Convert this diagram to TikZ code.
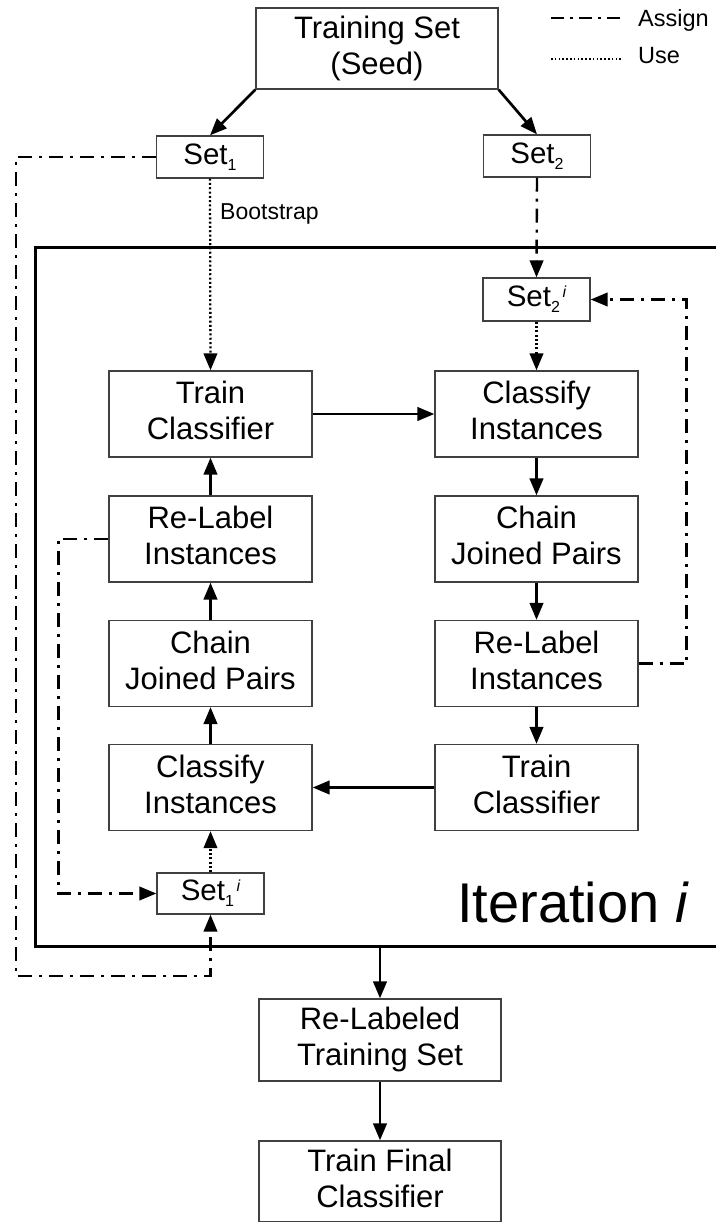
\documentclass[tikz,border=0pt]{standalone}
\usepackage{fontspec}
\setmainfont{Liberation Sans}
\usetikzlibrary{arrows.meta}
\newcommand\mainfs{\fontsize{31}{36}\selectfont}
\newcommand\setfs{\fontsize{29.5}{34}\selectfont}
\newcommand\subfs{\fontsize{16}{16}\selectfont}
\newcommand\legfs{\fontsize{23.5}{28}\selectfont}
\newcommand\SetSub[1]{Set\raisebox{-6.3pt}{\subfs #1}}
\newcommand\SetSubI[1]{Set\raisebox{-6.3pt}{\subfs #1}\raisebox{9pt}{\subfs\itshape\,i}}
\begin{document}
\begin{tikzpicture}[x=1pt,y=-1pt,
  box/.style={draw=black!75, line width=1.3pt, inner sep=0pt, align=center,
    minimum width=203pt, minimum height=86pt, font=\mainfs,
    execute at end node={\rule[-6.5pt]{0pt}{6.5pt}}},
  wide/.style={box, minimum width=242pt, minimum height=81pt},
  setbox/.style={draw=black!75, line width=1.3pt, inner sep=0pt,
    minimum width=107pt, minimum height=42pt, font=\setfs},
  tip/.style={-{Triangle[length=17pt,width=13.5pt]}},
  arr/.style={tip, line width=2.7pt},
  assign/.style={line width=2.4pt, dash pattern=on 14pt off 7pt on 3pt off 7pt},
  use/.style={line width=2.3pt, dash pattern=on 2pt off 2.3pt},
  plain/.style={inner sep=0pt, anchor=base west}
]
\useasboundingbox (0,0) rectangle (715,1222);

% iteration frame
\draw[line width=3pt] (735,248) -- (35,248) -- (35,946) -- (735,946);
\node[plain, font=\fontsize{56}{60}\selectfont] (iterlabel) at (457,922) {Iteration \textit{i}};
\coordinate (itb) at (380,946);

% legend
\coordinate (la1) at (551,18.3);
\coordinate (la2) at (623,18.3);
\coordinate (lu1) at (551,59);
\coordinate (lu2) at (622,59);
\draw[line width=1.8pt, dash pattern=on 13pt off 6pt on 3pt off 6pt] (la1) -- (la2);
\draw[line width=1.6pt, dash pattern=on 1.6pt off 2.2pt] (lu1) -- (lu2);
\node[plain, font=\legfs] (lassign) at (638,26.7) {Assign};
\node[plain, font=\legfs] (luse) at (638,63.3) {Use};

% nodes
\node[wide] (ts) at (377,48.5) {Training Set\\(Seed)};
\node[setbox] (s1) at (210,157) {\SetSub{1}};
\node[setbox] (s2) at (537,156) {\SetSub{2}};
\node[setbox, minimum height=43pt] (s2i) at (536.5,299.5) {\SetSubI{2}};
\node[box] (tcL) at (210.5,414) {Train\\Classifier};
\node[box] (ciR) at (536.5,414) {Classify\\Instances};
\node[box] (rlL) at (210.5,539) {Re-Label\\Instances};
\node[box] (cjR) at (536.5,539) {Chain\\Joined Pairs};
\node[box] (cjL) at (210.5,663.5) {Chain\\Joined Pairs};
\node[box] (rlR) at (536.5,663.5) {Re-Label\\Instances};
\node[box] (ciL) at (210.5,787.5) {Classify\\Instances};
\node[box] (tcR) at (536.5,787.5) {Train\\Classifier};
\node[setbox, minimum height=41pt] (s1i) at (210.5,893.5) {\SetSubI{1}};
\node[wide, minimum height=82pt] (rlt) at (380,1040) {Re-Labeled\\Training Set};
\node[wide] (tfc) at (380,1181.5) {Train Final\\Classifier};

% solid arrows
\draw[arr] (ts.south west) -- (s1.north);
\draw[arr] (ts.south east) -- (s2.north);
\draw[arr] (tcL.east) -- (ciR.west);
\draw[arr] (ciR.south) -- (cjR.north);
\draw[arr] (cjR.south) -- (rlR.north);
\draw[arr] (rlR.south) -- (tcR.north);
\draw[arr] (tcR.west) -- (ciL.east);
\draw[arr] (ciL.north) -- (cjL.south);
\draw[arr] (cjL.north) -- (rlL.south);
\draw[arr] (rlL.north) -- (tcL.south);
\draw[arr] (itb) -- (rlt.north);
\draw[arr] (rlt.south) -- (tfc.north);

% use (dotted) arrows
\draw[use, tip] (s1.south) -- (tcL.north);
\node[plain, font=\fontsize{23}{27}\selectfont] (boot) at (220,219.3) {Bootstrap};
\draw[use, tip] (s2i.south) -- (ciR.north);
\draw[use, tip] (s1i.north) -- (ciL.south);

% assign (dash-dot) arrows
\coordinate (o1) at (16,157);
\coordinate (o2) at (16,976);
\draw[assign, tip] (s2.south) -- (s2i.north);
\draw[assign, tip] (rlR.east) -- ++(48,0) |- (s2i.east);
\draw[assign, tip] (rlL.west) -- ++(-50,0) |- (s1i.west);
\draw[assign, tip] (s1.west) -- (o1) -- (o2) -| (s1i.south);
\end{tikzpicture}
\end{document}
